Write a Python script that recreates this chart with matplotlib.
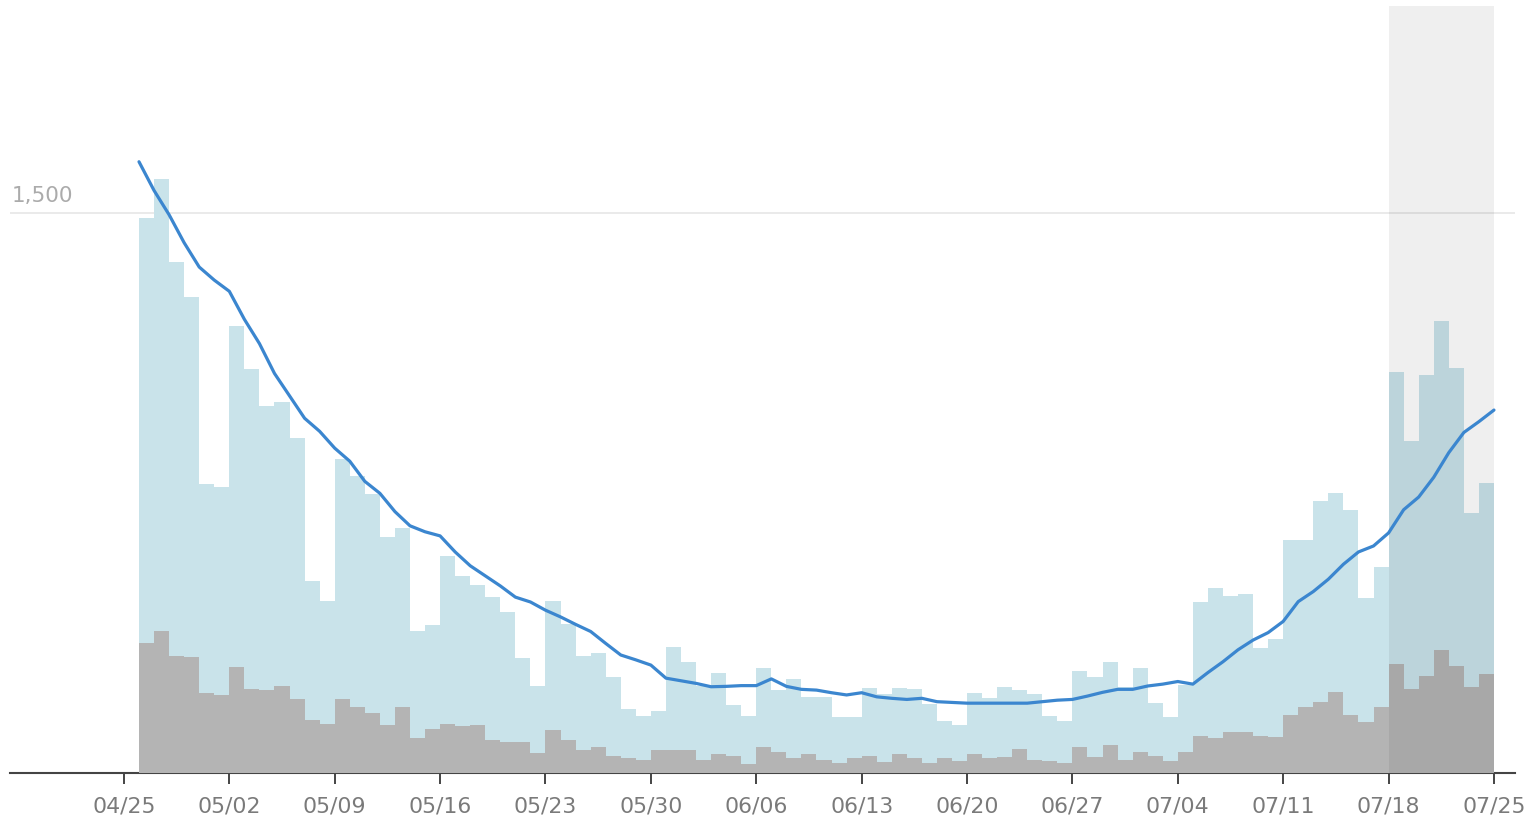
import matplotlib.pyplot as plt
import pandas as pd

# daily values, 04/26 -> 07/24 (one bar per day)
cases = [1486, 1591, 1368, 1274, 773, 767, 1198, 1082, 983, 994,
         897, 515, 461, 842, 795, 746, 633, 657, 379, 396,
         582, 528, 504, 472, 431, 309, 234, 460, 398, 312,
         321, 256, 171, 153, 166, 338, 296, 233, 267, 181,
         153, 280, 222, 252, 203, 204, 151, 151, 227, 212,
         227, 225, 185, 138, 128, 215, 202, 229, 221, 211,
         152, 140, 273, 258, 296, 230, 280, 187, 151, 235,
         459, 495, 475, 480, 336, 358, 623, 623, 728, 749,
         703, 469, 552, 1074, 888, 1067, 1211, 1085, 695, 776]
grey = [347, 379, 314, 310, 215, 209, 283, 226, 221, 232,
        197, 142, 131, 199, 176, 162, 129, 178, 94, 118,
        131, 127, 129, 88, 84, 82, 54, 115, 89, 62,
        69, 46, 41, 36, 61, 61, 62, 36, 52, 46,
        24, 69, 57, 41, 50, 35, 26, 39, 46, 30,
        50, 41, 26, 39, 33, 51, 39, 42, 64, 35,
        31, 28, 69, 42, 75, 35, 55, 46, 33, 57,
        99, 93, 109, 109, 100, 96, 156, 177, 190, 216,
        156, 136, 177, 293, 226, 260, 329, 286, 229, 264]
# smoothed average, 04/26 -> 07/25
avg = [1637, 1560, 1495, 1420, 1355, 1320, 1290, 1215, 1150, 1070,
       1010, 950, 915, 870, 835, 781, 749, 700, 662, 646,
       635, 592, 555, 528, 501, 471, 458, 436, 418, 398,
       379, 347, 316, 303, 289, 254, 247, 240, 231, 232,
       234, 234, 252, 232, 224, 222, 215, 209, 215, 204,
       200, 197, 200, 191, 189, 187, 187, 187, 187, 187,
       191, 195, 197, 206, 216, 224, 224, 233, 238, 245,
       238, 269, 298, 330, 356, 376, 406, 459, 486, 519,
       559, 592, 608, 643, 705, 739, 792, 858, 912, 941, 972]

days = pd.date_range('2020-04-26', periods=len(cases), freq='D')
line_days = pd.date_range('2020-04-26', periods=len(avg), freq='D')
ticks = pd.date_range('2020-04-25', '2020-07-25', freq='7D')
shade_start, shade_end = pd.Timestamp('2020-07-18'), pd.Timestamp('2020-07-25')

fig = plt.figure(figsize=(15.35, 8.27), dpi=100)
ax = fig.add_axes([0.0065, 0.0653, 0.9805, 0.9274])

ax.bar(days, cases, width=1.0, align='edge', color='#c9e3ea', linewidth=0, zorder=2)
ax.bar(days, grey, width=1.0, align='edge', color='#b4b4b4', linewidth=0, zorder=3)
ax.axvspan(shade_start, shade_end, color='black', alpha=0.063, linewidth=0, zorder=4)
ax.plot(line_days, avg, color='#3b86cf', linewidth=2.3, zorder=5,
        solid_joinstyle='round', solid_capstyle='round')

ax.axhline(1500, color='#e6e6e6', linewidth=1.2, zorder=1)
ax.text(0.0013, 1500 + 28, '1,500', transform=ax.get_yaxis_transform(),
        color='#ababab', fontsize=15.5, ha='left', va='baseline')

ax.set_xlim(pd.Timestamp('2020-04-25') - pd.Timedelta(days=7.57),
            pd.Timestamp('2020-07-25') + pd.Timedelta(days=1.4))
ax.set_ylim(0, 2054)

ax.set_xticks(ticks)
ax.set_xticklabels([d.strftime('%m/%d') for d in ticks])
ax.tick_params(axis='x', length=8, width=1.4, color='#444444', pad=9,
               labelsize=15.8, labelcolor='#7a7a7a')
ax.set_yticks([])
for side in ['left', 'right', 'top']:
    ax.spines[side].set_visible(False)
ax.spines['bottom'].set_color('#444444')
ax.spines['bottom'].set_linewidth(1.5)

fig.savefig('out.png', dpi=100)
